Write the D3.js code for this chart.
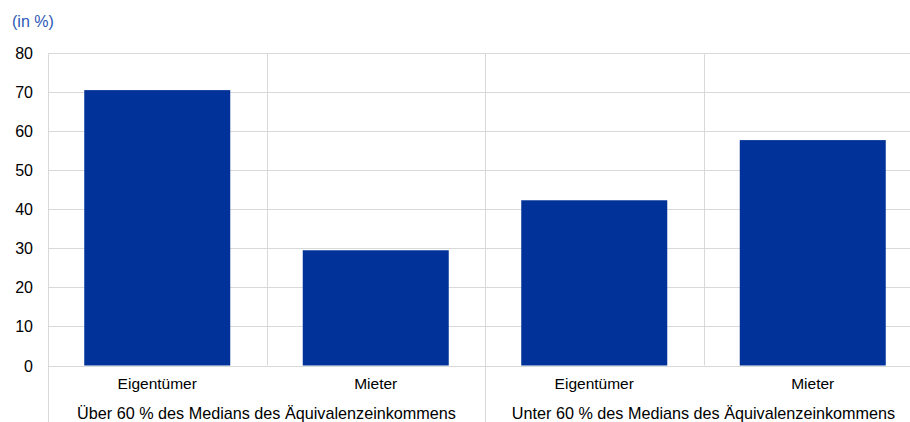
<!DOCTYPE html>
<html>
<head>
<meta charset="utf-8">
<script src="https://cdn.jsdelivr.net/npm/d3@7"></script>
<style>
  body { margin: 0; background: #fff; }
  svg { display: block; font-family: "Liberation Sans", Arial, sans-serif; }
</style>
</head>
<body>
<svg id="chart" width="910" height="422"></svg>
<script>
// Share of households by tenure status, split by income group (in %)
const groups = ["Über 60 % des Medians des Äquivalenzeinkommens", "Unter 60 % des Medians des Äquivalenzeinkommens"];
const categories = ["Eigentümer", "Mieter"];
const values = [70.5, 29.5, 42.3, 57.7];
const yTicks = [0, 10, 20, 30, 40, 50, 60, 70, 80];
const unitLabel = "(in %)";

const svg = d3.select("#chart");
const plotLeft = 48, plotRight = 922, plotTop = 53, plotBottom = 365.5;

// one band per bar: group × category
const keys = [];
groups.forEach((g, gi) => categories.forEach((c, ci) => keys.push({ g, gi, c, ci, key: gi + "|" + c })));
keys.forEach((k, i) => k.value = values[i]);

const x = d3.scaleBand().domain(keys.map(k => k.key)).range([plotLeft, plotRight]).paddingInner(0).paddingOuter(0);
const xg = d3.scaleBand().domain(groups).range([plotLeft, plotRight]);
const y = d3.scaleLinear().domain([0, 80]).range([plotBottom, plotTop]);

const grid = "#d9d9d9";

// horizontal gridlines
svg.append("g").selectAll("line").data(yTicks).join("line")
  .attr("x1", plotLeft).attr("x2", plotRight)
  .attr("y1", d => Math.round(y(d)) + 0.5).attr("y2", d => Math.round(y(d)) + 0.5)
  .attr("stroke", grid).attr("stroke-width", 1);

// vertical separators between bars (inside plot); group borders run to the bottom
svg.append("g").selectAll("line").data(keys.slice(1)).join("line")
  .attr("x1", d => Math.round(x(d.key)) + 0.5).attr("x2", d => Math.round(x(d.key)) + 0.5)
  .attr("y1", plotTop).attr("y2", d => d.ci === 0 ? 422 : plotBottom)
  .attr("stroke", grid).attr("stroke-width", 1);

// left axis line extending through the label area
svg.append("line")
  .attr("x1", plotLeft + 0.5).attr("x2", plotLeft + 0.5).attr("y1", plotTop).attr("y2", 422)
  .attr("stroke", grid).attr("stroke-width", 1);

// bars
const barW = 146;
svg.append("g").selectAll("rect").data(keys).join("rect")
  .attr("x", d => x(d.key) + (x.bandwidth() - barW) / 2)
  .attr("width", barW)
  .attr("y", d => y(d.value))
  .attr("height", d => y(0) - y(d.value))
  .attr("fill", "#003299");

// y tick labels
svg.append("g").selectAll("text").data(yTicks).join("text")
  .attr("x", 33).attr("y", d => y(d) + 6)
  .attr("text-anchor", "end").attr("font-size", 16).attr("fill", "#000")
  .text(d => d);

// category labels
svg.append("g").selectAll("text").data(keys).join("text")
  .attr("x", d => x(d.key) + x.bandwidth() / 2).attr("y", 389)
  .attr("text-anchor", "middle").attr("font-size", 15.5).attr("fill", "#000")
  .text(d => d.c);

// group labels
svg.append("g").selectAll("text").data(groups).join("text")
  .attr("x", d => xg(d) + xg.bandwidth() / 2).attr("y", 419)
  .attr("text-anchor", "middle").attr("font-size", 16.2).attr("fill", "#000")
  .text(d => d);

// unit label
svg.append("text")
  .attr("x", 12).attr("y", 26.5)
  .attr("font-size", 16).attr("fill", "#2b58b5")
  .text(unitLabel);
</script>
</body>
</html>
